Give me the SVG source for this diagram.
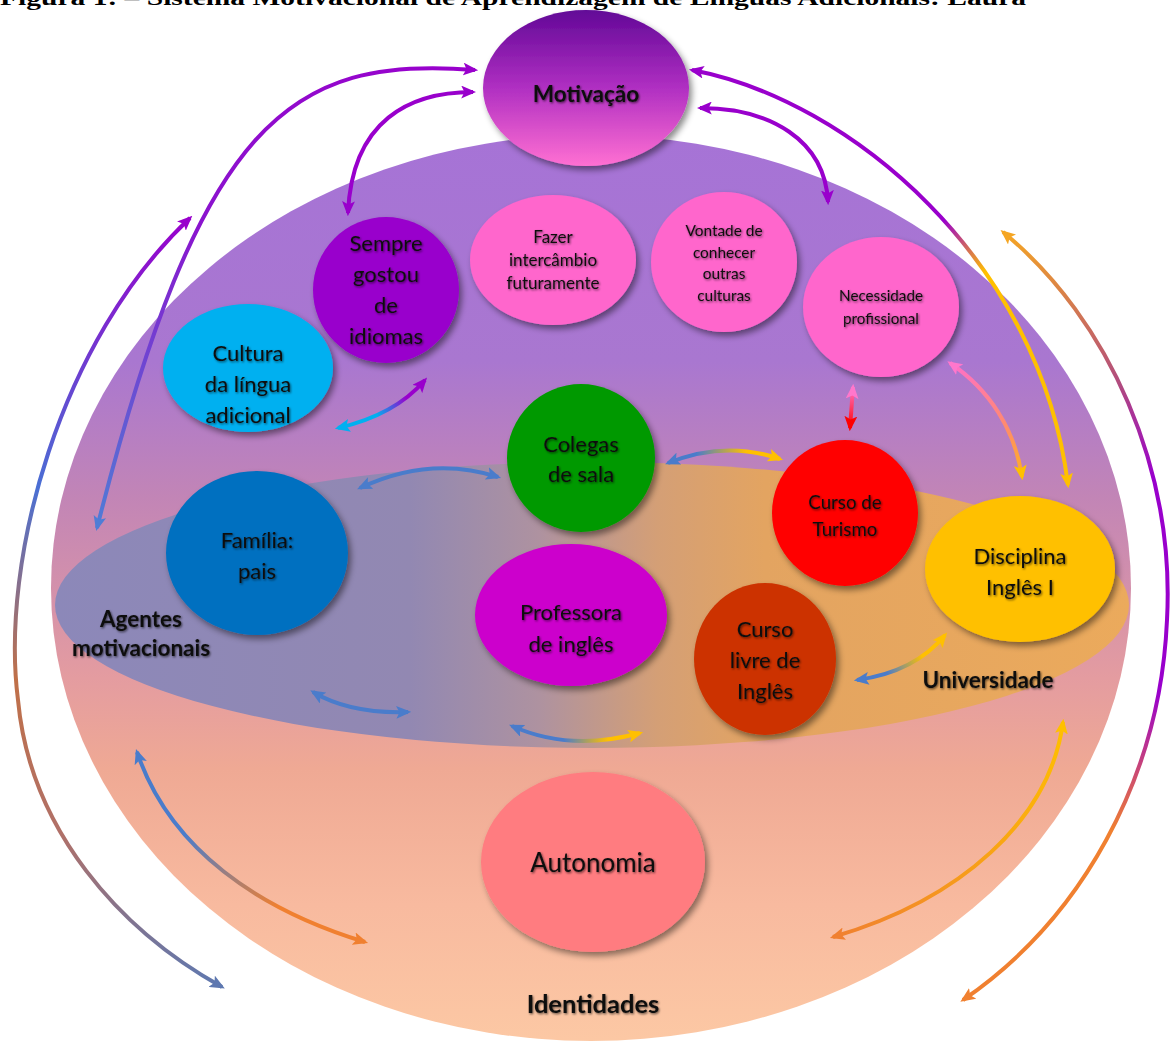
<svg xmlns="http://www.w3.org/2000/svg" width="1170" height="1043" viewBox="0 0 1170 1043">
<defs>
  <linearGradient id="gSphere" gradientUnits="userSpaceOnUse" x1="0" y1="135" x2="0" y2="1041">
    <stop offset="0" stop-color="#A673D6"/>
    <stop offset="0.25" stop-color="#A977D0"/>
    <stop offset="0.4" stop-color="#C285B6"/>
    <stop offset="0.6" stop-color="#E49CA0"/>
    <stop offset="0.7" stop-color="#EFA994"/>
    <stop offset="0.85" stop-color="#F8BA9F"/>
    <stop offset="1" stop-color="#FCC8A4"/>
  </linearGradient>
  <linearGradient id="gInner" gradientUnits="userSpaceOnUse" x1="55" y1="0" x2="1130" y2="0">
    <stop offset="0" stop-color="#8C88B9"/>
    <stop offset="0.33" stop-color="#9288B2"/>
    <stop offset="0.45" stop-color="#AE92A0"/>
    <stop offset="0.56" stop-color="#D49F76"/>
    <stop offset="0.66" stop-color="#E3A461"/>
    <stop offset="1" stop-color="#EBAA5C"/>
  </linearGradient>
  <linearGradient id="gMotiv" x1="0" y1="0" x2="0" y2="1">
    <stop offset="0" stop-color="#620897"/>
    <stop offset="0.5" stop-color="#B02FC2"/>
    <stop offset="1" stop-color="#FF70D2"/>
  </linearGradient>
  <linearGradient id="c1" gradientUnits="userSpaceOnUse" x1="475" y1="70" x2="97" y2="528">
    <stop offset="0" stop-color="#9900CC"/><stop offset="0.5" stop-color="#8A14CE"/><stop offset="1" stop-color="#4F7DD6"/>
  </linearGradient>
  <linearGradient id="c3" gradientUnits="userSpaceOnUse" x1="692" y1="70" x2="1068" y2="485">
    <stop offset="0" stop-color="#9900CC"/><stop offset="0.5" stop-color="#9900CC"/><stop offset="0.62" stop-color="#FFC000"/><stop offset="1" stop-color="#FFC000"/>
  </linearGradient>
  <linearGradient id="c5" gradientUnits="userSpaceOnUse" x1="950" y1="363" x2="1022" y2="477">
    <stop offset="0" stop-color="#FF6FCC"/><stop offset="0.6" stop-color="#FF8A70"/><stop offset="1" stop-color="#FFB020"/>
  </linearGradient>
  <linearGradient id="c6" gradientUnits="userSpaceOnUse" x1="0" y1="387" x2="0" y2="428">
    <stop offset="0" stop-color="#FF77CC"/><stop offset="1" stop-color="#FF0000"/>
  </linearGradient>
  <linearGradient id="c7" gradientUnits="userSpaceOnUse" x1="668" y1="0" x2="780" y2="0">
    <stop offset="0" stop-color="#4A7CCB"/><stop offset="0.25" stop-color="#4A7CCB"/><stop offset="0.7" stop-color="#FFC000"/><stop offset="1" stop-color="#FFC000"/>
  </linearGradient>
  <linearGradient id="c8" gradientUnits="userSpaceOnUse" x1="338" y1="428" x2="425" y2="380">
    <stop offset="0" stop-color="#00B0F0"/><stop offset="0.4" stop-color="#00B0F0"/><stop offset="0.75" stop-color="#9900CC"/><stop offset="1" stop-color="#9900CC"/>
  </linearGradient>
  <linearGradient id="c11" gradientUnits="userSpaceOnUse" x1="512" y1="0" x2="640" y2="0">
    <stop offset="0" stop-color="#4A7CCB"/><stop offset="0.4" stop-color="#4A7CCB"/><stop offset="0.75" stop-color="#FFC000"/><stop offset="1" stop-color="#FFC000"/>
  </linearGradient>
  <linearGradient id="c12" gradientUnits="userSpaceOnUse" x1="857" y1="680" x2="945" y2="635">
    <stop offset="0" stop-color="#4A7CCB"/><stop offset="0.3" stop-color="#4A7CCB"/><stop offset="0.7" stop-color="#FFC000"/><stop offset="1" stop-color="#FFC000"/>
  </linearGradient>
  <linearGradient id="c13" gradientUnits="userSpaceOnUse" x1="1063" y1="722" x2="833" y2="937">
    <stop offset="0" stop-color="#FFC000"/><stop offset="1" stop-color="#F08030"/>
  </linearGradient>
  <linearGradient id="c14" gradientUnits="userSpaceOnUse" x1="0" y1="232" x2="0" y2="1000">
    <stop offset="0" stop-color="#F5A623"/><stop offset="0.2" stop-color="#B04A80"/><stop offset="0.32" stop-color="#9900CC"/><stop offset="0.6" stop-color="#9900CC"/><stop offset="0.78" stop-color="#F08030"/><stop offset="1" stop-color="#F08030"/>
  </linearGradient>
  <linearGradient id="c15" gradientUnits="userSpaceOnUse" x1="0" y1="218" x2="0" y2="987">
    <stop offset="0" stop-color="#9900CC"/><stop offset="0.35" stop-color="#4A6FD4"/><stop offset="0.6" stop-color="#C07048"/><stop offset="0.8" stop-color="#B07068"/><stop offset="1" stop-color="#5E78B0"/>
  </linearGradient>
  <linearGradient id="c16" gradientUnits="userSpaceOnUse" x1="137" y1="752" x2="365" y2="942">
    <stop offset="0" stop-color="#4A7CCB"/><stop offset="0.3" stop-color="#4A7CCB"/><stop offset="0.7" stop-color="#F08030"/><stop offset="1" stop-color="#F08030"/>
  </linearGradient>
  <filter id="shadow" x="-20%" y="-20%" width="150%" height="150%">
    <feDropShadow dx="3" dy="4" stdDeviation="3" flood-color="#000" flood-opacity="0.45"/>
  </filter>
  <filter id="ts" x="-10%" y="-20%" width="130%" height="150%">
    <feDropShadow dx="1" dy="1.2" stdDeviation="1.1" flood-color="#000" flood-opacity="0.6"/>
  </filter>
  <marker id="mPurple" viewBox="0 0 14 12" refX="11" refY="6" markerWidth="15" markerHeight="13" markerUnits="userSpaceOnUse" orient="auto-start-reverse"><path d="M0,0 L14,6 L0,12 L3,6 z" fill="#9900CC"/></marker>
  <marker id="mBlue" viewBox="0 0 14 12" refX="11" refY="6" markerWidth="15" markerHeight="13" markerUnits="userSpaceOnUse" orient="auto-start-reverse"><path d="M0,0 L14,6 L0,12 L3,6 z" fill="#4A7CCB"/></marker>
  <marker id="mYellow" viewBox="0 0 14 12" refX="11" refY="6" markerWidth="15" markerHeight="13" markerUnits="userSpaceOnUse" orient="auto-start-reverse"><path d="M0,0 L14,6 L0,12 L3,6 z" fill="#FFC000"/></marker>
  <marker id="mOrange" viewBox="0 0 14 12" refX="11" refY="6" markerWidth="15" markerHeight="13" markerUnits="userSpaceOnUse" orient="auto-start-reverse"><path d="M0,0 L14,6 L0,12 L3,6 z" fill="#F08030"/></marker>
  <marker id="mOrangeTop" viewBox="0 0 14 12" refX="11" refY="6" markerWidth="15" markerHeight="13" markerUnits="userSpaceOnUse" orient="auto-start-reverse"><path d="M0,0 L14,6 L0,12 L3,6 z" fill="#F5A623"/></marker>
  <marker id="mPink" viewBox="0 0 14 12" refX="11" refY="6" markerWidth="15" markerHeight="13" markerUnits="userSpaceOnUse" orient="auto-start-reverse"><path d="M0,0 L14,6 L0,12 L3,6 z" fill="#FF77CC"/></marker>
  <marker id="mRed" viewBox="0 0 14 12" refX="11" refY="6" markerWidth="15" markerHeight="13" markerUnits="userSpaceOnUse" orient="auto-start-reverse"><path d="M0,0 L14,6 L0,12 L3,6 z" fill="#FF0000"/></marker>
  <marker id="mCyan" viewBox="0 0 14 12" refX="11" refY="6" markerWidth="15" markerHeight="13" markerUnits="userSpaceOnUse" orient="auto-start-reverse"><path d="M0,0 L14,6 L0,12 L3,6 z" fill="#00B0F0"/></marker>
  <marker id="mSlate" viewBox="0 0 14 12" refX="11" refY="6" markerWidth="15" markerHeight="13" markerUnits="userSpaceOnUse" orient="auto-start-reverse"><path d="M0,0 L14,6 L0,12 L3,6 z" fill="#5E78B0"/></marker>
  <marker id="mBlueL" viewBox="0 0 14 12" refX="11" refY="6" markerWidth="15" markerHeight="13" markerUnits="userSpaceOnUse" orient="auto-start-reverse"><path d="M0,0 L14,6 L0,12 L3,6 z" fill="#4F7DD6"/></marker>
</defs>
<style>
  .t{font-family:Lato,"Open Sans","Noto Sans",sans-serif;fill:#111;text-anchor:middle;filter:url(#ts)}
  .b{font-weight:bold}
  .node{filter:url(#shadow)}
  .conn{fill:none;stroke-width:4}
</style>

<text x="0" y="5" font-family="'Liberation Serif',serif" font-weight="bold" font-size="21" textLength="1026" lengthAdjust="spacingAndGlyphs" fill="#000">Figura 1: – Sistema Motivacional de Aprendizagem de Línguas Adicionais: Laura</text>

<g id="background">
  <ellipse cx="591" cy="588" rx="540" ry="453" fill="url(#gSphere)"/>
  <ellipse cx="592" cy="605" rx="537" ry="143" fill="url(#gInner)"/>
</g>

<g id="node-motivacao"><ellipse class="node" cx="586" cy="88" rx="103" ry="78" fill="url(#gMotiv)"/><text class="t b" x="586" y="102" font-size="22.5">Motivação</text></g>
<g id="node-sempre"><circle class="node" cx="386" cy="290" r="73" fill="#9900CC"/><text class="t" x="386" font-size="22"><tspan x="386" y="251">Sempre</tspan><tspan x="386" y="282">gostou</tspan><tspan x="386" y="313">de</tspan><tspan x="386" y="344">idiomas</tspan></text></g>
<g id="node-fazer"><ellipse class="node" cx="553" cy="260" rx="83" ry="65" fill="#FF66CC"/><text class="t" font-size="17"><tspan x="553" y="243">Fazer</tspan><tspan x="553" y="266">intercâmbio</tspan><tspan x="553" y="289">futuramente</tspan></text></g>
<g id="node-vontade"><ellipse class="node" cx="724" cy="262" rx="73" ry="70" fill="#FF66CC"/><text class="t" font-size="15.4"><tspan x="724" y="236">Vontade de</tspan><tspan x="724" y="258">conhecer</tspan><tspan x="724" y="279">outras</tspan><tspan x="724" y="301">culturas</tspan></text></g>
<g id="node-necessidade"><ellipse class="node" cx="881" cy="307" rx="78" ry="70" fill="#FF66CC"/><text class="t" font-size="15.2"><tspan x="881" y="301">Necessidade</tspan><tspan x="881" y="324">profissional</tspan></text></g>
<g id="node-cultura"><ellipse class="node" cx="248" cy="368" rx="85" ry="64" fill="#00B0F0"/><text class="t" font-size="22"><tspan x="248" y="361">Cultura</tspan><tspan x="248" y="392">da língua</tspan><tspan x="248" y="423">adicional</tspan></text></g>
<g id="node-colegas"><circle class="node" cx="581" cy="458" r="74" fill="#009900"/><text class="t" font-size="22"><tspan x="581" y="452">Colegas</tspan><tspan x="581" y="482">de sala</tspan></text></g>
<g id="node-turismo"><circle class="node" cx="845" cy="513" r="73" fill="#FF0000"/><text class="t" font-size="18.7"><tspan x="845" y="509">Curso de</tspan><tspan x="845" y="536">Turismo</tspan></text></g>
<g id="node-familia"><ellipse class="node" cx="257" cy="553" rx="91" ry="82" fill="#0070C0"/><text class="t" font-size="22"><tspan x="257" y="548">Família:</tspan><tspan x="257" y="579">pais</tspan></text></g>
<g id="node-disciplina"><ellipse class="node" cx="1020" cy="569" rx="95" ry="73" fill="#FFC000"/><text class="t" font-size="22"><tspan x="1020" y="564">Disciplina</tspan><tspan x="1020" y="595">Inglês I</tspan></text></g>
<g id="node-professora"><ellipse class="node" cx="571" cy="615" rx="96" ry="71" fill="#CC00CC"/><text class="t" font-size="22"><tspan x="571" y="620">Professora</tspan><tspan x="571" y="652">de inglês</tspan></text></g>
<g id="node-cursolivre"><ellipse class="node" cx="765" cy="659" rx="71" ry="76" fill="#CC3300"/><text class="t" font-size="22"><tspan x="765" y="637">Curso</tspan><tspan x="765" y="668">livre de</tspan><tspan x="765" y="699">Inglês</tspan></text></g>
<g id="node-autonomia"><ellipse class="node" cx="593" cy="862" rx="112" ry="90" fill="#FF7C80"/><text class="t" x="593" y="872" font-size="26">Autonomia</text></g>

<g id="labels">
  <text class="t b" font-size="22.5"><tspan x="141" y="627">Agentes</tspan><tspan x="141" y="656">motivacionais</tspan></text>
  <text class="t b" x="988" y="688" font-size="22.5">Universidade</text>
  <text class="t b" x="593" y="1013" font-size="25.5">Identidades</text>
</g>

<g id="connectors">
  <path class="conn" d="M475,70 C290,55 200,120 97,528" stroke="url(#c1)" marker-start="url(#mPurple)" marker-end="url(#mBlueL)"/>
  <path class="conn" d="M473,92 C410,92 352,120 348,213" stroke="#9900CC" marker-start="url(#mPurple)" marker-end="url(#mPurple)"/>
  <path class="conn" d="M692,70 C850,100 1040,260 1068,485" stroke="url(#c3)" marker-start="url(#mPurple)" marker-end="url(#mYellow)"/>
  <path class="conn" d="M700,108 C770,108 825,140 828,202" stroke="#9900CC" marker-start="url(#mPurple)" marker-end="url(#mPurple)"/>
  <path class="conn" d="M950,363 C990,390 1015,430 1022,477" stroke="url(#c5)" marker-start="url(#mPink)" marker-end="url(#mYellow)"/>
  <path class="conn" d="M853,387 L850,428" stroke="url(#c6)" marker-start="url(#mPink)" marker-end="url(#mRed)"/>
  <path class="conn" d="M668,463 Q725,440 780,459" stroke="url(#c7)" marker-start="url(#mBlue)" marker-end="url(#mYellow)"/>
  <path class="conn" d="M338,428 Q395,415 425,380" stroke="url(#c8)" marker-start="url(#mCyan)" marker-end="url(#mPurple)"/>
  <path class="conn" d="M360,488 Q430,455 498,477" stroke="#4A7CCB" marker-start="url(#mBlue)" marker-end="url(#mBlue)"/>
  <path class="conn" d="M313,692 Q350,714 408,712" stroke="#4A7CCB" marker-start="url(#mBlue)" marker-end="url(#mBlue)"/>
  <path class="conn" d="M512,726 Q570,752 640,733" stroke="url(#c11)" marker-start="url(#mBlue)" marker-end="url(#mYellow)"/>
  <path class="conn" d="M857,680 Q915,672 945,635" stroke="url(#c12)" marker-start="url(#mBlue)" marker-end="url(#mYellow)"/>
  <path class="conn" d="M1063,722 C1050,820 960,900 833,937" stroke="url(#c13)" marker-start="url(#mYellow)" marker-end="url(#mOrange)"/>
  <path class="conn" d="M1003,232 C1110,320 1175,470 1167,620 C1160,780 1080,920 963,1000" stroke="url(#c14)" marker-start="url(#mOrangeTop)" marker-end="url(#mOrange)"/>
  <path class="conn" d="M190,218 C60,340 0,560 18,700 C30,830 120,930 222,987" stroke="url(#c15)" marker-start="url(#mPurple)" marker-end="url(#mSlate)"/>
  <path class="conn" d="M137,752 C170,850 260,910 365,942" stroke="url(#c16)" marker-start="url(#mBlue)" marker-end="url(#mOrange)"/>
</g>
</svg>
